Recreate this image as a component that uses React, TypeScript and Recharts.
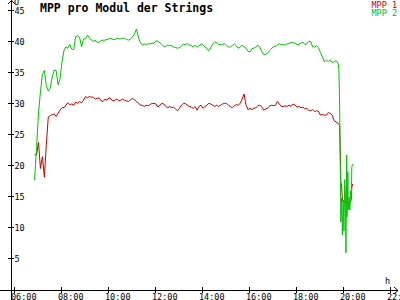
import React from 'react';
import { LineChart, Line, XAxis, YAxis } from 'recharts';

// time of day (HH:MM) for each sample
const times = [
  '06:50', '06:55',
  '07:00', '07:05', '07:10', '07:15', '07:20', '07:25', '07:30', '07:35', '07:40', '07:45', '07:50', '07:55',
  '08:00', '08:05', '08:10', '08:15', '08:20', '08:25', '08:30', '08:35', '08:40', '08:45', '08:50', '08:55',
  '09:00', '09:05', '09:10', '09:15', '09:20', '09:25', '09:30', '09:35', '09:40', '09:45', '09:50', '09:55',
  '10:00', '10:05', '10:10', '10:15', '10:20', '10:25', '10:30', '10:35', '10:40', '10:45', '10:50', '10:55',
  '11:00', '11:05', '11:10', '11:15', '11:20', '11:25', '11:30', '11:35', '11:40', '11:45', '11:50', '11:55',
  '12:00', '12:05', '12:10', '12:15', '12:20', '12:25', '12:30', '12:35', '12:40', '12:45', '12:50', '12:55',
  '13:00', '13:05', '13:10', '13:15', '13:20', '13:25', '13:30', '13:35', '13:40', '13:45', '13:50', '13:55',
  '14:00', '14:05', '14:10', '14:15', '14:20', '14:25', '14:30', '14:35', '14:40', '14:45', '14:50', '14:55',
  '15:00', '15:05', '15:10', '15:15', '15:20', '15:25', '15:30', '15:35', '15:40', '15:45', '15:50', '15:55',
  '16:00', '16:05', '16:10', '16:15', '16:20', '16:25', '16:30', '16:35', '16:40', '16:45', '16:50', '16:55',
  '17:00', '17:05', '17:10', '17:15', '17:20', '17:25', '17:30', '17:35', '17:40', '17:45', '17:50', '17:55',
  '18:00', '18:05', '18:10', '18:15', '18:20', '18:25', '18:30', '18:35', '18:40', '18:45', '18:50', '18:55',
  '19:00', '19:05', '19:10', '19:15', '19:20', '19:25', '19:30', '19:35', '19:40',
  '19:45', '19:47', '19:49', '19:51', '19:52', '19:54', '19:56', '19:58', '20:00', '20:02', '20:04',
  '20:05', '20:07', '20:08', '20:10', '20:11', '20:13', '20:15', '20:17', '20:19', '20:20', '20:22',
];

// MPP 1 (V)
const mpp1 = [
  21.8, 21.8,
  23.8, 19.6, 21.5, 18.2, 23.5, 27.9, 28.1, 28.3, 28.4, 28, 28.5, 29,
  29.4, 29.4, 29.8, 30.2, 29.9, 30, 29.8, 30.3, 30.1, 30.4, 30.2, 30.6,
  31.2, 31, 31.2, 31.1, 31.1, 30.8, 30.9, 31, 30.5, 30.4, 30.8, 30.6,
  31, 30.8, 30.5, 30.6, 30.8, 30.5, 30.6, 30.8, 30.6, 30.5, 30.4, 30.7,
  30.9, 30.7, 30.4, 30.2, 29.8, 29.8, 29.6, 29.8, 29.7, 29.9, 30.1, 30.1,
  30, 29.5, 29.8, 30.1, 30, 29.6, 29.4, 29.6, 29.4, 29.5, 29.2, 28.9,
  29.3, 29.8, 30.1, 30.1, 29.8, 29.6, 29.5, 29.3, 29.6, 29, 29.6, 29.8,
  29.3, 29.6, 29.8, 30.1, 30, 29.8, 29.6, 29.8, 29.6, 29.8, 30, 30.1,
  30.1, 29.8, 29.6, 29.4, 29.7, 29.9, 29.8, 30.1, 30.8, 31.6, 29.8, 29.1,
  29.3, 29.1, 29.3, 29.4, 29.7, 29.8, 29.6, 29, 29.2, 29.3, 29.7, 29.8,
  29.7, 29.8, 30.4, 30, 29.6, 29.6, 29.7, 29.6, 29.8, 29.6, 30, 29.8,
  29.5, 29.6, 29.4, 29.5, 29.2, 29.3, 29, 28.9, 29.1, 28.8, 28.9, 28.8,
  28.2, 28.3, 28.2, 28.2, 28.6, 28.5, 28.2, 27.3, 27.1,
  26.9, 26.7, 26.5, 21.1, 17.4, 16.9, 14.5, 14.2, 14.2, 14.2, 14.2,
  14.2, 14.2, 14.2, 14.2, 14.2, 14.2, 14.2, 14.2, 14.8, 16.5, 17.1,
];

// MPP 2 (V)
const mpp2 = [
  17.7, 23,
  28.5, 32, 34.8, 35.4, 33, 32.1, 32.6, 34.3, 35.5, 35.4, 33.1, 34,
  36.8, 38.6, 39.2, 39, 39.6, 38.8, 38.8, 40.9, 41, 40.7, 39.2, 40.5,
  40.5, 41.1, 40.7, 40.3, 40.1, 40.3, 39.9, 40, 40.2, 40.3, 40.3, 40.4,
  40.5, 40.6, 40.4, 40.4, 40.6, 40.5, 40.5, 40.6, 40.6, 40.4, 40.3, 40.5,
  40.8, 41.3, 42.1, 40.8, 39.9, 39.5, 39.7, 39.6, 39.7, 39.7, 39.8, 39.8,
  40.2, 40.1, 39.9, 39.6, 39.3, 39.3, 39.5, 39.4, 39.4, 39.2, 39.1, 39,
  39.1, 39.3, 39.7, 39.5, 39.8, 39.5, 39.4, 39.2, 39.5, 39.2, 39.4, 39.7,
  39.5, 39.2, 38.9, 38.6, 39.1, 39.7, 40, 39.9, 39.6, 39.6, 39.6, 39.7,
  39.4, 39.2, 39.2, 39.4, 39.7, 39.4, 39, 39.2, 39.5, 39.2, 39, 38.5,
  38.4, 38.9, 39, 39.2, 39.5, 39.2, 38.5, 38, 38, 38.2, 38.6, 38.9,
  39.3, 39.3, 39.5, 39.7, 39.6, 39.6, 39.5, 39.7, 39.8, 39.9, 39.9, 39.8,
  39.6, 39.6, 39.8, 40, 39.6, 39.7, 40.1, 40.1, 39.2, 39.2, 39.4, 39.1,
  38.3, 37.6, 36.8, 37.1, 36.8, 37.1, 36.7, 36.8, 37,
  36.6, 35.5, 30, 17.7, 11, 14.8, 8.9, 14.5, 9.5, 17.8, 15,
  6, 21.8, 11.8, 19, 12.9, 15, 12.9, 16, 15, 19.8, 20.3,
];

const xTicks = [6, 8, 10, 12, 14, 16, 18, 20, 22];
const yTicks = [5, 10, 15, 20, 25, 30, 35, 40, 45];

const RED = '#c80000';
const GREEN = '#00c400';
const FONT = '"DejaVu Sans Mono", monospace';

const toHours = (t: string) => {
  const [h, m] = t.split(':').map(Number);
  return h + m / 60;
};

const data = times.map((t, i) => ({ t: toHours(t), mpp1: mpp1[i], mpp2: mpp2[i] }));

const XTick = (props: any) => {
  const { x, y, payload } = props;
  const label = `${String(payload.value).padStart(2, '0')}:00`;
  return (
    <g>
      <line x1={x} x2={x} y1={y - 3} y2={y + 3} stroke="#000" shapeRendering="crispEdges" />
      <text x={x - 4} y={y + 9.5} fontSize={8.5} fontFamily={FONT} fill="#000" textAnchor="start">
        {label}
      </text>
    </g>
  );
};

const YTick = (props: any) => {
  const { x, y, payload } = props;
  return (
    <g>
      <line x1={x - 3} x2={x + 3} y1={y} y2={y} stroke="#000" shapeRendering="crispEdges" />
      <text x={x + 3.5} y={y + 3} fontSize={8.5} fontFamily={FONT} fill="#000" textAnchor="start">
        {payload.value}
      </text>
    </g>
  );
};

export default function App() {
  return (
    <div style={{ position: 'absolute', left: 0, top: 0, width: 400, height: 300, background: '#fff' }}>
      <LineChart width={400} height={300} data={data} margin={{ top: 2, right: 2, left: 10, bottom: 0 }}>
        <XAxis
          dataKey="t"
          type="number"
          domain={[5.83, 22.3]}
          allowDataOverflow
          ticks={xTicks}
          interval={0}
          height={10}
          tickSize={0}
          tickMargin={0}
          tickLine={false}
          axisLine={{ stroke: '#000', shapeRendering: 'crispEdges' }}
          tick={<XTick />}
        />
        <YAxis
          type="number"
          domain={[0, 46.45]}
          allowDataOverflow
          ticks={yTicks}
          interval={0}
          width={1}
          tickSize={0}
          tickMargin={0}
          tickLine={false}
          axisLine={{ stroke: '#000', shapeRendering: 'crispEdges' }}
          tick={<YTick />}
        />
        <Line type="linear" dataKey="mpp1" stroke={RED} strokeWidth={1} dot={false} isAnimationActive={false} />
        <Line type="linear" dataKey="mpp2" stroke={GREEN} strokeWidth={1} dot={false} isAnimationActive={false} />
      </LineChart>
      <svg
        width={400}
        height={300}
        style={{ position: 'absolute', left: 0, top: 0, pointerEvents: 'none' }}
      >
        <g stroke="#000" fill="none" shapeRendering="crispEdges">
          <line x1={11} x2={11} y1={0} y2={300} />
          <line x1={0} x2={398} y1={290} y2={290} />
        </g>
        <g stroke="#000" fill="none">
          <polyline points="8,4 11.5,0.5 15,4" />
          <polyline points="394,287 398,290.5 394,294" />
        </g>
        <text x={14} y={4.5} fontSize={8.5} fontFamily={FONT}>U</text>
        <text x={385} y={284} fontSize={8.5} fontFamily={FONT}>h</text>
        <text x={40} y={11.5} fontSize={11.5} fontWeight="bold" fontFamily={FONT}>
          MPP pro Modul der Strings
        </text>
        <text x={397} y={7.5} fontSize={8.5} fontFamily={FONT} fill={RED} textAnchor="end">MPP 1</text>
        <text x={397} y={15.5} fontSize={8.5} fontFamily={FONT} fill={GREEN} textAnchor="end">MPP 2</text>
      </svg>
    </div>
  );
}
